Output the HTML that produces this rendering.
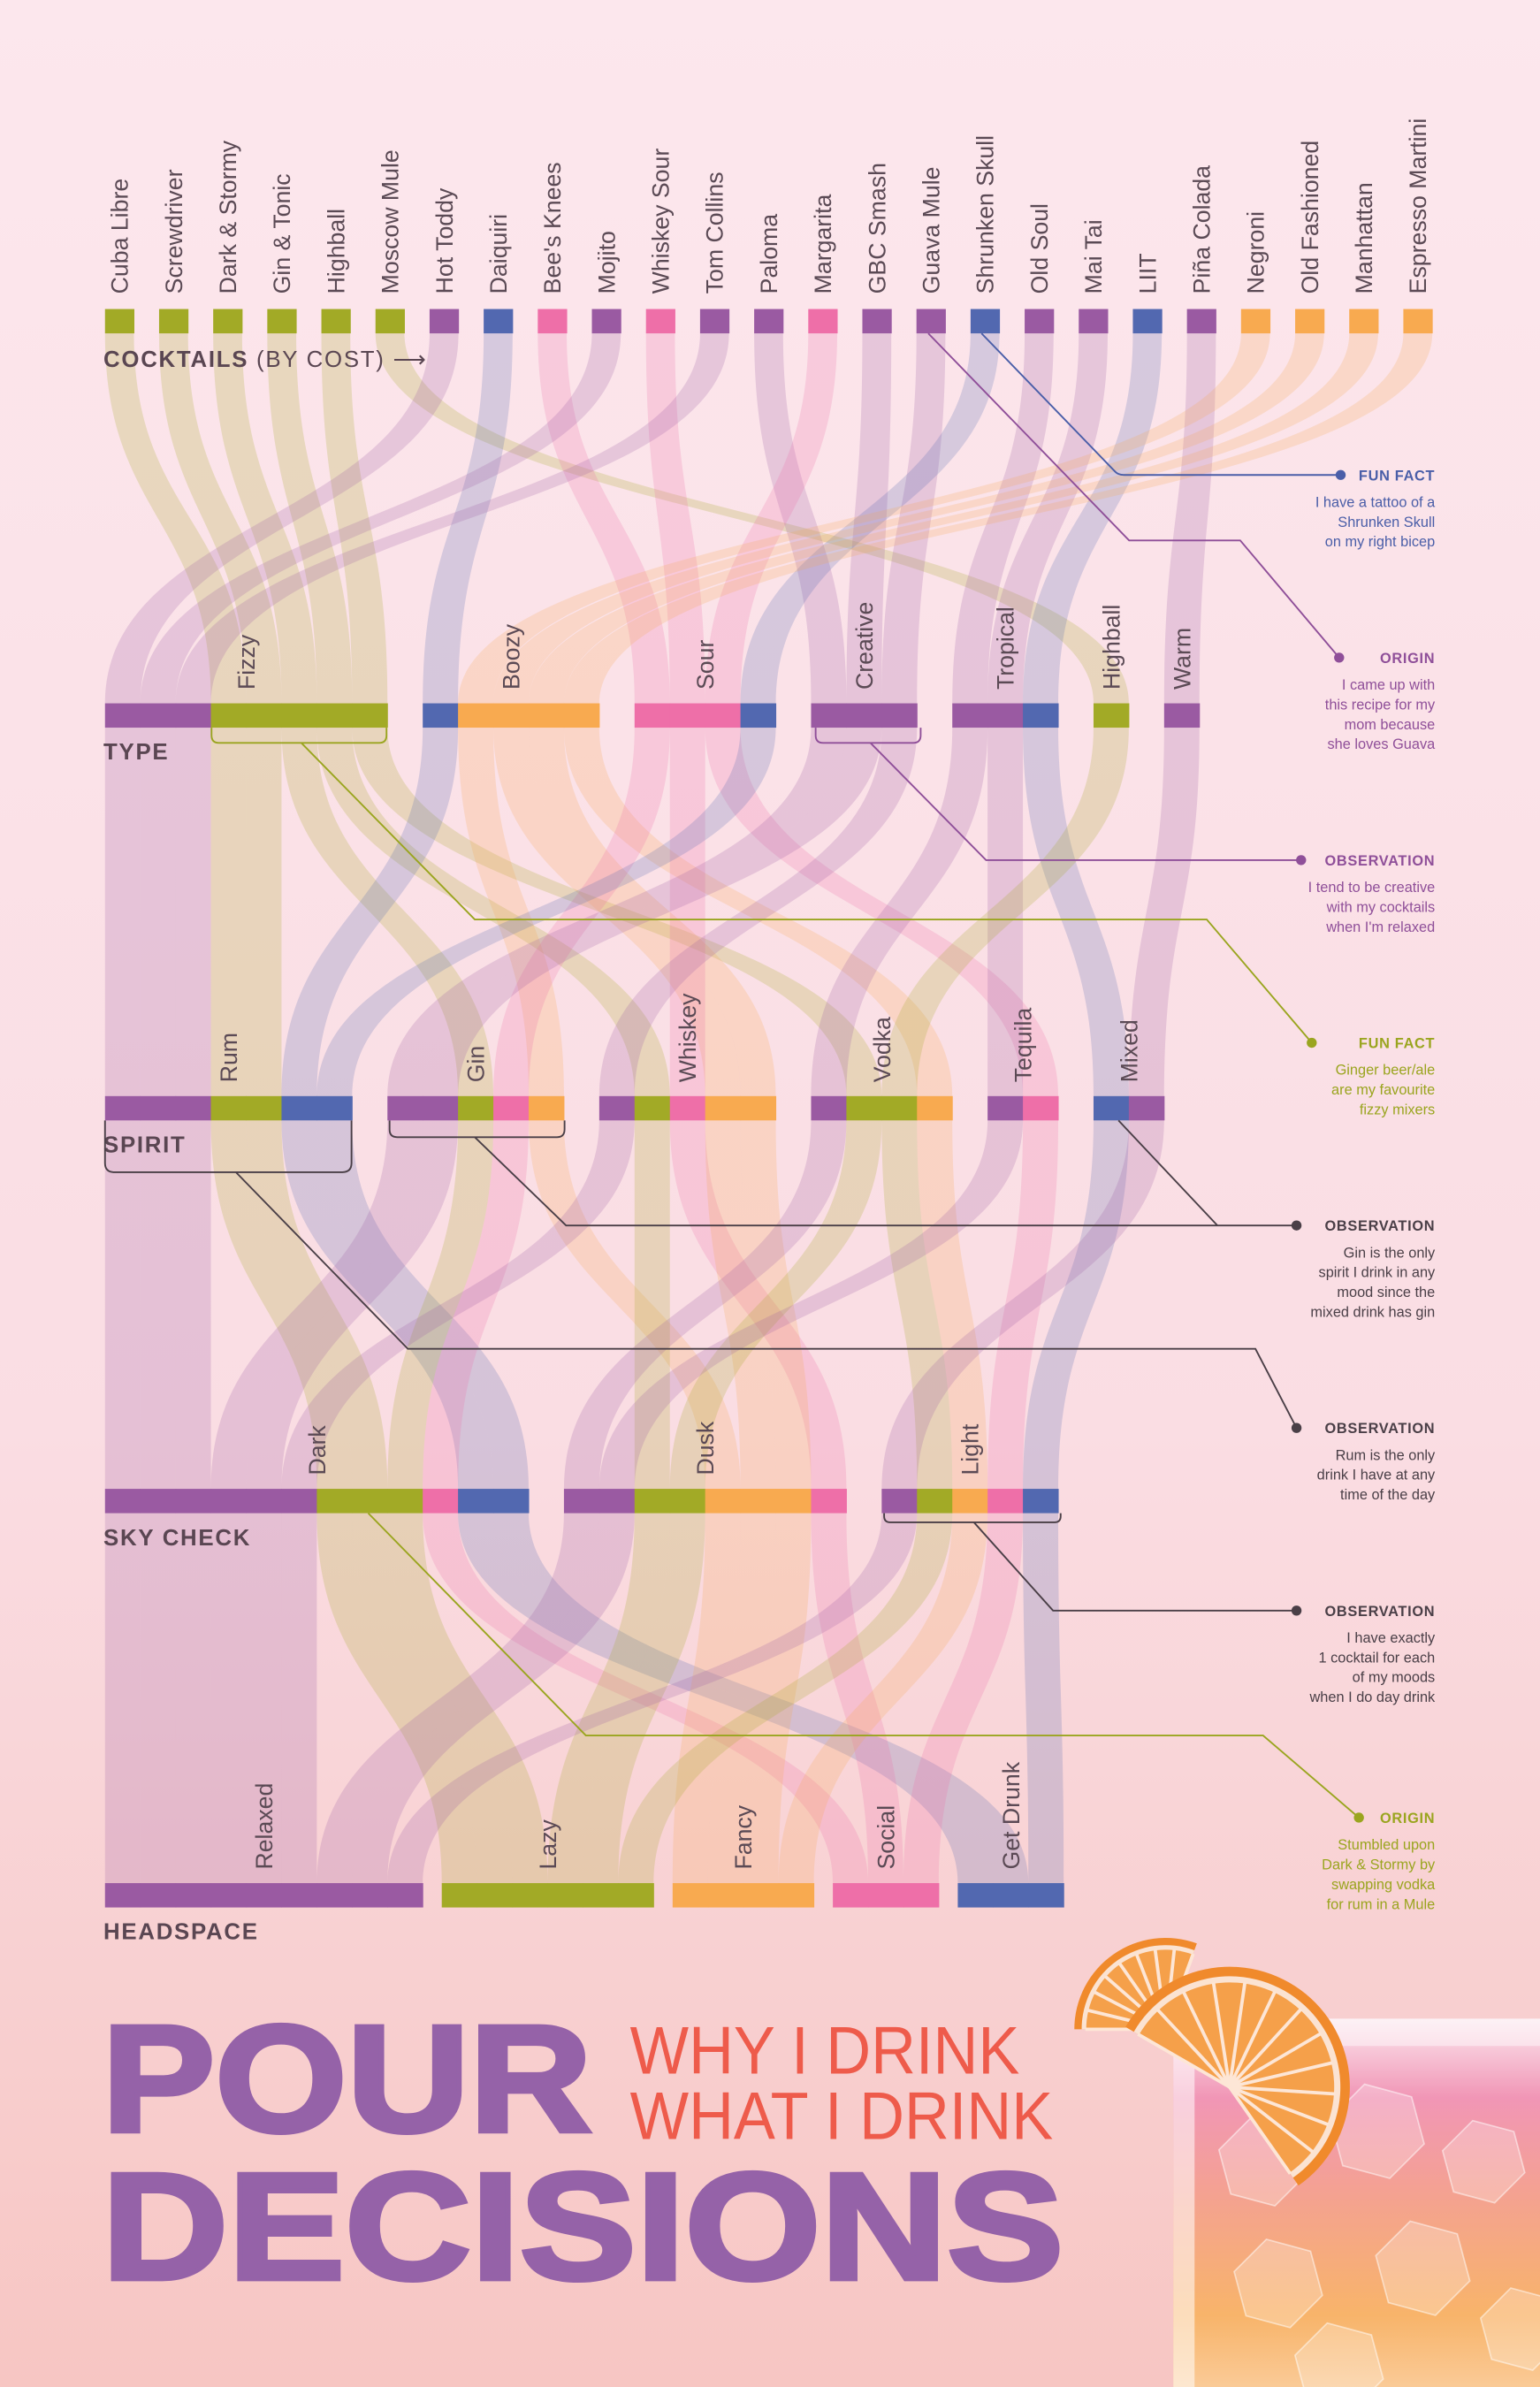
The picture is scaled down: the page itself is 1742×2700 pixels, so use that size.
<!DOCTYPE html>
<html><head><meta charset="utf-8"><title>Pour Decisions</title>
<style>
html,body{margin:0;padding:0;width:1742px;height:2700px;overflow:hidden;background:#fbe3e9;}
svg{display:block;}
text{font-family:"Liberation Sans",sans-serif;}
</style></head>
<body>
<svg id="chart" width="1742" height="2700" viewBox="0 0 1012 1568" preserveAspectRatio="none" xmlns="http://www.w3.org/2000/svg">
<defs>
<linearGradient id="bg" x1="0" y1="0" x2="0" y2="1">
<stop offset="0" stop-color="#fce7ed"/><stop offset="0.6" stop-color="#fadde3"/><stop offset="1" stop-color="#f7c6c3"/>
</linearGradient>
<linearGradient id="drink" x1="0" y1="0" x2="0" y2="1">
<stop offset="0" stop-color="#fbe7ee"/><stop offset="0.2" stop-color="#f196b6"/><stop offset="0.45" stop-color="#f4a290"/><stop offset="0.75" stop-color="#f8b46a"/><stop offset="1" stop-color="#fbd3a8"/>
</linearGradient>
<clipPath id="glassClip"><rect x="771" y="1326" width="260" height="260" rx="14"/></clipPath>
</defs>
<rect x="0" y="0" width="1012" height="1568" fill="url(#bg)"/>
<g id="ribbons"></g>
<g id="bars"></g>
<g id="labels"></g>

<g fill="#5a4652" font-weight="bold" font-size="15" letter-spacing="1">
<text x="68" y="241">COCKTAILS <tspan font-weight="normal">(BY COST) ⟶</tspan></text>
<text x="68" y="499">TYPE</text>
<text x="68" y="757">SPIRIT</text>
<text x="68" y="1015">SKY CHECK</text>
<text x="68" y="1274">HEADSPACE</text>
</g>

<g fill="none" stroke-width="1.1">
<path stroke="#4a5ea8" d="M645,219 L733,310 Q735,312 739,312 L881,312"/>
<path stroke="#8f4f99" d="M610,219 L742,355 L815,355 L880,432"/>
<path stroke="#8f4f99" d="M536,478 v5 q0,5 5,5 h59 q5,0 5,-5 v-5 M572,488 L648,565 L855,565"/>
<path stroke="#9aa51f" d="M139,478 v5 q0,5 5,5 h105 q5,0 5,-5 v-5 M198,488 L312,604 L793,604 L862,685"/>
<path stroke="#4a3f47" d="M256,736 v6 q0,5 5,5 h105 q5,0 5,-5 v-6 M312,747 L372,805 L852,805 M735,736 L800,805"/>
<path stroke="#4a3f47" d="M69,736 v28 q0,6 6,6 h150 q6,0 6,-6 v-28 M155,770 L268,886 L825,886 L852,938"/>
<path stroke="#4a3f47" d="M581,994 v2 q0,4 4,4 h108 q4,0 4,-4 v-2 M640,1000 L692,1058 L852,1058"/>
<path stroke="#9aa51f" d="M242,994 L385,1140 L830,1140 L893,1194"/>
</g>

<g id="notes" font-size="9.5" text-anchor="end"></g>

<g>
<text x="67" y="1400" font-size="100" font-weight="bold" fill="#9562a8" stroke="#9562a8" stroke-width="3" textLength="322" lengthAdjust="spacingAndGlyphs">POUR</text>
<text x="67" y="1497" font-size="100" font-weight="bold" fill="#9562a8" stroke="#9562a8" stroke-width="3" textLength="632" lengthAdjust="spacingAndGlyphs">DECISIONS</text>
<text x="414" y="1362" font-size="44" fill="#ee5b4b" textLength="256" lengthAdjust="spacingAndGlyphs">WHY I DRINK</text>
<text x="414" y="1405" font-size="44" fill="#ee5b4b" textLength="278" lengthAdjust="spacingAndGlyphs">WHAT I DRINK</text>
</g>

<g id="glass"></g>
</svg>
<script>
// ---- data ----
var cocktails = ["Cuba Libre","Screwdriver","Dark & Stormy","Gin & Tonic","Highball","Moscow Mule","Hot Toddy","Daiquiri","Bee's Knees","Mojito","Whiskey Sour","Tom Collins","Paloma","Margarita","GBC Smash","Guava Mule","Shrunken Skull","Old Soul","Mai Tai","LIIT","Piña Colada","Negroni","Old Fashioned","Manhattan","Espresso Martini"];
var cocktailMood = "GGGGGGPBKPKPPKPPBPPBPOOOO";
var typeNames = ["Fizzy","Boozy","Sour","Creative","Tropical","Highball","Warm"];
var typeSegs = ["PPPGGGGG","BOOOO","KKKB","PPP","PPB","G","P"];
var spiritNames = ["Rum","Gin","Whiskey","Vodka","Tequila","Mixed"];
var spiritSegs = ["PPPGGBB","PPGKO","PGKOO","PGGO","PK","BP"];
var skyNames = ["Dark","Dusk","Light"];
var skySegs = ["PPPPPPGGGKBB","PPGGOOOK","PGOKB"];
var headNames = ["Relaxed","Lazy","Fancy","Social","Get Drunk"];
var headSegs = ["PPPPPPPPP","GGGGGG","OOOO","KKK","BBB"];

var COL = {G:"#a2aa26",P:"#9a5aa2",B:"#5268b0",K:"#ee6fa8",O:"#f8aa50"};
var NS = "http://www.w3.org/2000/svg";
function mk(tag, attrs, parent){var e=document.createElementNS(NS,tag);for(var k in attrs)e.setAttribute(k,attrs[k]);if(parent)parent.appendChild(e);return e;}
var gR=document.getElementById('ribbons'), gB=document.getElementById('bars'), gL=document.getElementById('labels');
var U=23.2, BH=16, X0=69;

function cocktailUnits(){var u=[];for(var i=0;i<cocktails.length;i++){u.push({x:X0+i*35.55,w:19,c:cocktailMood[i]});}return u;}
function rowUnits(segs, gap){var u=[],nodes=[],x=X0;for(var n=0;n<segs.length;n++){var s=segs[n],x0=x;for(var j=0;j<s.length;j++){u.push({x:x,w:U,c:s[j]});x+=U;}nodes.push({x0:x0,x1:x});x+=gap;}return {units:u,nodes:nodes};}

var rows=[];
rows.push({y:203,units:cocktailUnits()});
var t=rowUnits(typeSegs,U); rows.push({y:462,units:t.units,nodes:t.nodes,names:typeNames,key:'type'});
var s=rowUnits(spiritSegs,U); rows.push({y:720,units:s.units,nodes:s.nodes,names:spiritNames,key:'spirit'});
var k=rowUnits(skySegs,U); rows.push({y:978,units:k.units,nodes:k.nodes,names:skyNames,key:'sky'});
var h=rowUnits(headSegs,12.5); rows.push({y:1237,units:h.units,nodes:h.nodes,names:headNames,key:'headspace'});

for(var r=0;r<rows.length-1;r++){
  var A=rows[r],B=rows[r+1],used={};
  var y0=A.y+BH,y1=B.y,ym=(y0+y1)/2;
  A.units.forEach(function(a){
    var cands=B.units.filter(function(b){return b.c===a.c;});
    var idx=used[a.c]||0; used[a.c]=idx+1;
    var b=cands[idx]; if(!b)return;
    var d="M"+a.x+","+y0+" C"+a.x+","+ym+" "+b.x+","+ym+" "+b.x+","+y1+" L"+(b.x+b.w)+","+y1+" C"+(b.x+b.w)+","+ym+" "+(a.x+a.w)+","+ym+" "+(a.x+a.w)+","+y0+" Z";
    var p=mk('path',{d:d,fill:COL[a.c],'fill-opacity':'0.22'},gR);
    
    
  });
}
rows.forEach(function(row){
  row.units.forEach(function(u){
    var b=mk('rect',{x:u.x,y:row.y,width:u.w+0.3,height:BH,fill:COL[u.c]},gB);
    
    
  });
});
rows[0].units.forEach(function(u,i){
  var cx=u.x+u.w/2+5.5;
  var tx=mk('text',{x:0,y:0,transform:"translate("+cx+",193) rotate(-90)",'font-size':'15.5',fill:'#5b4a55'},gL);
  tx.textContent=cocktails[i];
  
  
});
rows.slice(1).forEach(function(row){
  row.nodes.forEach(function(n,i){
    var cx=(n.x0+n.x1)/2+5.5;
    var tx=mk('text',{x:0,y:0,transform:"translate("+cx+","+(row.y-9)+") rotate(-90)",'font-size':'15.5',fill:'#5b4a55'},gL);
    tx.textContent=row.names[i];
    
    
  });
});
var noteY=[312,432,565,685,805,938,1058,1194];
var noteDotX=[881,880,855,862,852,852,852,893];
var noteTitle=["FUN FACT","ORIGIN","OBSERVATION","FUN FACT","OBSERVATION","OBSERVATION","OBSERVATION","ORIGIN"];
var noteColor=["#4a5ea8","#8f4f99","#8f4f99","#9aa51f","#4a3f47","#4a3f47","#4a3f47","#9aa51f"];
var noteBody=[["I have a tattoo of a","Shrunken Skull","on my right bicep"],["I came up with","this recipe for my","mom because","she loves Guava"],["I tend to be creative","with my cocktails","when I'm relaxed"],["Ginger beer/ale","are my favourite","fizzy mixers"],["Gin is the only","spirit I drink in any","mood since the","mixed drink has gin"],["Rum is the only","drink I have at any","time of the day"],["I have exactly","1 cocktail for each","of my moods","when I do day drink"],["Stumbled upon","Dark & Stormy by","swapping vodka","for rum in a Mule"]];
var gN=document.getElementById('notes');
noteY.forEach(function(y,i){
  var dot=mk('circle',{cx:noteDotX[i],cy:y,r:3.3,fill:noteColor[i]},gN);
  
  
  var tt=mk('text',{x:943,y:y+3.5,'font-weight':'bold',fill:noteColor[i],'letter-spacing':'0.4'},gN);
  tt.textContent=noteTitle[i];
  
  
  noteBody[i].forEach(function(line,j){
    var bt=mk('text',{x:943,y:y+21+j*13,fill:noteColor[i]},gN);
    bt.textContent=line;
    
    
  });
});
var gG=document.getElementById('glass');
function slice(cx,cy,r,a0,a1,n){
  var g=mk('g',{},gG);
  
  
  var large=(a1-a0)>180?1:0;
  function pt(a,rr){var t=a*Math.PI/180;return [cx+rr*Math.cos(t),cy+rr*Math.sin(t)];}
  function sector(rr,fill){var p0=pt(a0,rr),p1=pt(a1,rr);mk('path',{d:"M"+cx+","+cy+" L"+p0[0].toFixed(1)+","+p0[1].toFixed(1)+" A"+rr+","+rr+" 0 "+large+" 1 "+p1[0].toFixed(1)+","+p1[1].toFixed(1)+" Z",fill:fill},g);}
  sector(r,"#f08a2c");sector(r*0.92,"#fbe3d2");sector(r*0.87,"#f5a04a");
  for(var i=0;i<=n;i++){var a=a0+(a1-a0)*i/n;var e=pt(a,r*0.88);mk('line',{x1:cx,y1:cy,x2:e[0].toFixed(1),y2:e[1].toFixed(1),stroke:"#fde6d6","stroke-width":2.2},g);}
}
slice(766,1333,60,180,290,8);
var cup=mk('g',{'clip-path':'url(#glassClip)'},gG);


mk('rect',{x:771,y:1326,width:260,height:260,fill:"url(#drink)"},cup);
var hexes=[[830,1420,30],[905,1400,32],[975,1420,28],[840,1500,30],[935,1490,32],[1000,1530,28],[880,1555,30]];
hexes.forEach(function(hx){var c=hx[0],d=hx[1],r=hx[2],p=[];for(var i=0;i<6;i++){var a=(i*60+15)*Math.PI/180;p.push((c+r*Math.cos(a)).toFixed(1)+","+(d+r*Math.sin(a)).toFixed(1));}mk('polygon',{points:p.join(" "),fill:"#ffffff","fill-opacity":"0.25",stroke:"#ffffff","stroke-opacity":"0.5"},cup);});
mk('rect',{x:771,y:1326,width:14,height:260,fill:"#ffffff","fill-opacity":"0.55"},cup);
mk('rect',{x:771,y:1326,width:260,height:18,fill:"#ffffff","fill-opacity":"0.45"},cup);
slice(808,1371,79,-150,55,12);
</script>
</body></html>
